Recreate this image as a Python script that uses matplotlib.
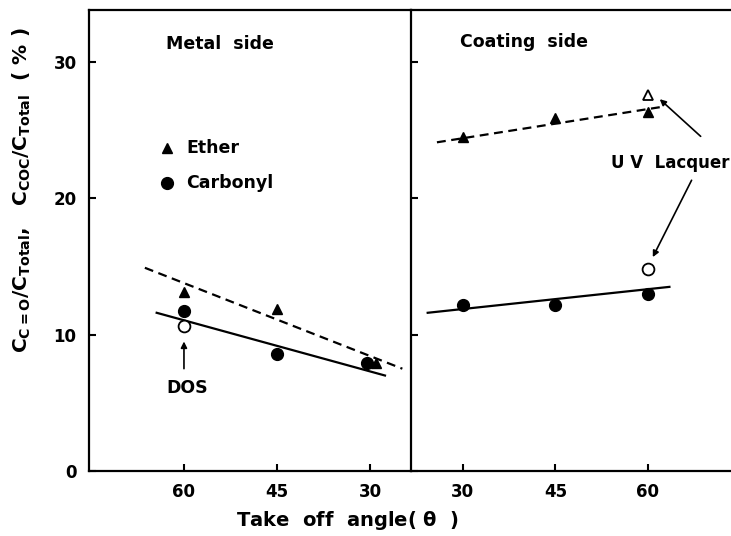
import matplotlib
matplotlib.use("Agg")
import matplotlib.pyplot as plt

plt.rcParams['font.family'] = ['DejaVu Sans']
plt.rcParams['font.weight'] = 'bold'
plt.rcParams['axes.labelweight'] = 'bold'
plt.rcParams['mathtext.default'] = 'bf'

# ---- data ----
angles = [60, 45, 30]

# metal side
metal_ether = [13.1, 11.9, 7.9]
metal_ether_x = [60, 45, 29]
metal_carbonyl = [11.7, 8.6, 7.9]
metal_carbonyl_x = [60, 45, 30.5]
dos_x, dos_y = 60, 10.6
metal_ether_fit_x = [66.3, 24.8]
metal_ether_fit_y = [14.9, 7.5]
metal_carbonyl_fit_x = [64.4, 27.6]
metal_carbonyl_fit_y = [11.6, 7.0]

# coating side
coat_angles = [30, 45, 60]
coat_ether = [24.5, 25.9, 26.3]
coat_carbonyl = [12.2, 12.2, 13.0]
uv_x = 60
uv_ether = 27.6
uv_carbonyl = 14.8
coat_ether_fit_x = [25.8, 62.3]
coat_ether_fit_y = [24.1, 26.7]
coat_carbonyl_fit_x = [24.3, 63.5]
coat_carbonyl_fit_y = [11.6, 13.5]

yticks = [0, 10, 20, 30]

arrow = dict(arrowstyle='-|>', color='black', lw=1.2, mutation_scale=9)


def style_axes(ax):
    ax.set_ylim(0, 33.8)
    ax.set_yticks(yticks)
    ax.tick_params(direction='in', length=5, width=1.5, labelsize=12, pad=9)
    for sp in ax.spines.values():
        sp.set_linewidth(1.6)


fig = plt.figure(figsize=(7.31, 5.36), dpi=100)
ax1 = fig.add_axes([0.1218, 0.1213, 0.4405, 0.860])
ax2 = fig.add_axes([0.5623, 0.1213, 0.4378, 0.860])

# ---- metal side ----
style_axes(ax1)
ax1.set_xlim(75.3, 23.4)
ax1.set_xticks(angles)
ax1.spines['right'].set_visible(False)
ax1.plot(metal_ether_fit_x, metal_ether_fit_y, 'k--', lw=1.6, dashes=(4, 2.5))
ax1.plot(metal_carbonyl_fit_x, metal_carbonyl_fit_y, 'k-', lw=1.6)
ax1.plot(metal_ether_x, metal_ether, 'k^', ms=7.5)
ax1.plot(metal_carbonyl_x, metal_carbonyl, 'ko', ms=8.5)
ax1.plot([dos_x], [dos_y], 'o', ms=8.5, mfc='white', mec='black', mew=1.3)
ax1.annotate('', xy=(dos_x, 9.7), xytext=(dos_x, 7.3), arrowprops=arrow)
ax1.text(dos_x - 0.5, 6.1, 'DOS', ha='center', va='center', fontsize=12.5)
ax1.text(0.24, 0.926, 'Metal  side', transform=ax1.transAxes,
         ha='left', va='center', fontsize=12.5)
# legend drawn by hand as in the original
ax1.plot([62.7], [23.7], 'k^', ms=7.5)
ax1.text(59.6, 23.7, 'Ether', ha='left', va='center', fontsize=12.5)
ax1.plot([62.7], [21.1], 'ko', ms=8.5)
ax1.text(59.6, 21.1, 'Carbonyl', ha='left', va='center', fontsize=12.5)
ax1.set_ylabel(r'C$_{C=O}$/C$_{Total}$,   '
               r'C$_{COC}$/C$_{Total}$  ( % )', fontsize=14.5)
ax1.yaxis.set_label_coords(-0.175, 0.61)

# ---- coating side ----
style_axes(ax2)
ax2.set_xlim(21.6, 73.5)
ax2.set_xticks(coat_angles)
ax2.tick_params(axis='y', labelleft=False)
ax2.spines['right'].set_visible(False)
ax2.plot(coat_ether_fit_x, coat_ether_fit_y, 'k--', lw=1.6, dashes=(4, 2.5))
ax2.plot(coat_carbonyl_fit_x, coat_carbonyl_fit_y, 'k-', lw=1.6)
ax2.plot(coat_angles, coat_ether, 'k^', ms=7.5)
ax2.plot(coat_angles, coat_carbonyl, 'ko', ms=8.5)
ax2.plot([uv_x], [uv_ether], '^', ms=7.5, mfc='white', mec='black', mew=1.3)
ax2.plot([uv_x], [uv_carbonyl], 'o', ms=8.5, mfc='white', mec='black', mew=1.3)
ax2.text(63.6, 22.6, 'U V  Lacquer', ha='center', va='center', fontsize=12)
ax2.annotate('', xy=(61.6, 27.4), xytext=(68.9, 24.4), arrowprops=arrow)
ax2.annotate('', xy=(60.6, 15.5), xytext=(67.3, 21.5), arrowprops=arrow)
ax2.text(0.153, 0.93, 'Coating  side', transform=ax2.transAxes,
         ha='left', va='center', fontsize=12.5)

fig.text(0.476, 0.028, r'Take  off  angle( $\theta$  )', ha='center',
         va='center', fontsize=14)

fig.savefig('out.png', dpi=100)
